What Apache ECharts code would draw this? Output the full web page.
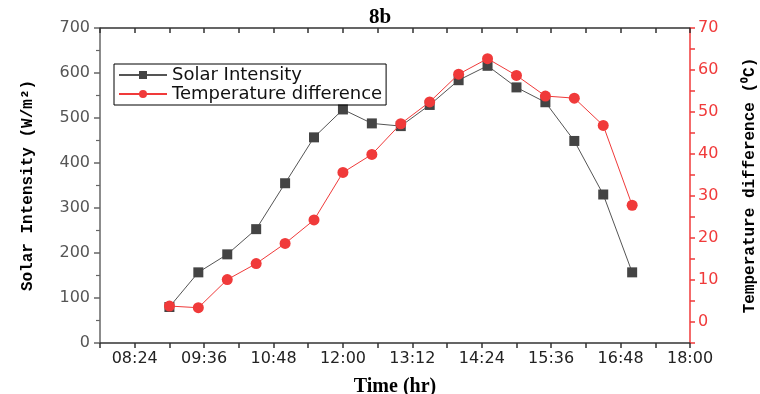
<!DOCTYPE html>
<html>
<head>
<meta charset="utf-8">
<script src="https://cdn.jsdelivr.net/npm/echarts@6/dist/echarts.min.js"></script>
<style>html,body{margin:0;padding:0;background:#fff}#c{width:760px;height:394px}</style>
</head>
<body>
<div id="c"></div>
<script>
// ---- data ----
var times = ['09:00','09:30','10:00','10:30','11:00','11:30','12:00','12:30','13:00','13:30','14:00','14:30','15:00','15:30','16:00','16:30','17:00'];
var solarIntensity = [80, 157, 197, 253, 355, 457, 519, 488, 482, 529, 584, 616, 568, 535, 449, 330, 157];
var tempDifference = [3.8, 3.4, 10.1, 13.9, 18.7, 24.3, 35.6, 39.9, 47.2, 52.4, 59.0, 62.7, 58.7, 53.8, 53.3, 46.8, 27.8];
var xTickLabels = ['08:24','09:36','10:48','12:00','13:12','14:24','15:36','16:48','18:00'];

function toMin(s){var p=s.split(':');return (+p[0])*60+(+p[1]);}
function fmt(v){var h=Math.floor(v/60),m=Math.round(v%60);return (h<10?'0':'')+h+':'+(m<10?'0':'')+m;}

var solarData = times.map(function(t,i){return [toMin(t), solarIntensity[i]];});
var tempData = times.map(function(t,i){return [toMin(t), tempDifference[i]];});

var chart = echarts.init(document.getElementById('c'), null, {renderer:'canvas'});
var tickFont = 'DejaVu Sans';
var red = '#f03a3a';
var option = {
  animation:false,
  backgroundColor:'#ffffff',
  title:{text:'8b', left:'center', top:2, textStyle:{fontFamily:'Liberation Serif', fontWeight:'bold', fontSize:21, color:'#000'}},
  legend:{
    orient:'vertical', left:114, top:64,
    itemWidth:48, itemHeight:10, itemGap:1,
    padding:[2,4,2,4],
    borderColor:'#000', borderWidth:1,
    textStyle:{fontFamily:tickFont, fontSize:18, lineHeight:16, color:'#111'},
    data:['Solar Intensity','Temperature difference']
  },
  grid:{left:100, right:70, top:28, bottom:51, containLabel:false, outerBoundsMode:'none'},
  xAxis:[{
    type:'value', position:'bottom', min:468, max:1080, interval:36,
    name:'Time (hr)', nameLocation:'middle', nameGap:34,
    nameTextStyle:{fontFamily:'Liberation Serif', fontWeight:'bold', fontSize:20, color:'#000'},
    axisLine:{lineStyle:{color:'#333', width:1.5}},
    axisTick:{show:true, inside:false, length:5, lineStyle:{color:'#333', width:1.5}},
    axisLabel:{margin:8, fontFamily:tickFont, fontSize:16, color:'#222',
      formatter:function(v){ var s=fmt(v); return xTickLabels.indexOf(s)>=0 ? s : ''; }},
    splitLine:{show:false}
  },{
    type:'value', position:'top', min:468, max:1080, interval:36,
    axisLine:{onZero:false, lineStyle:{color:'#333', width:1.5}},
    axisTick:{show:true, inside:true, length:5, lineStyle:{color:'#333', width:1.5}},
    axisLabel:{show:false},
    splitLine:{show:false}
  }],
  yAxis:[{
    type:'value', position:'left', min:0, max:700, interval:100,
    name:'Solar Intensity (W/m²)', nameLocation:'middle', nameRotate:90, nameGap:64,
    nameTextStyle:{fontFamily:'Liberation Mono', fontWeight:'bold', fontSize:16, color:'#000'},
    axisLine:{show:true, onZero:false, lineStyle:{color:'#666', width:1.5}},
    axisTick:{show:true, inside:false, length:6, lineStyle:{color:'#666', width:1.5}},
    minorTick:{show:true, splitNumber:2, length:4, lineStyle:{color:'#666', width:1.2}},
    axisLabel:{margin:10, fontFamily:tickFont, fontSize:16, color:'#555'},
    splitLine:{show:false}
  },{
    type:'value', position:'right', min:-5, max:70, interval:5,
    name:'Temperature difference (⁰C)', nameLocation:'middle', nameRotate:90, nameGap:52,
    nameTextStyle:{fontFamily:'Liberation Mono', fontWeight:'bold', fontSize:16, color:'#000'},
    axisLine:{show:true, onZero:false, lineStyle:{color:red, width:1.5}},
    axisTick:{show:true, inside:false, length:5, lineStyle:{color:red, width:1.5}},
    axisLabel:{margin:8, fontFamily:tickFont, fontSize:16, color:red,
      formatter:function(v){ return (Math.round(v)%10===0) ? String(Math.round(v)) : ''; }},
    splitLine:{show:false}
  }],
  series:[{
    name:'Solar Intensity', type:'line', xAxisIndex:0, yAxisIndex:0,
    data:solarData, symbol:'rect', symbolSize:10,
    lineStyle:{color:'#555', width:1},
    itemStyle:{color:'#444', borderWidth:0},
    z:2
  },{
    name:'Temperature difference', type:'line', xAxisIndex:0, yAxisIndex:1,
    data:tempData, symbol:'circle', symbolSize:11,
    lineStyle:{color:red, width:1},
    itemStyle:{color:red, borderWidth:0},
    z:3
  }]
};
chart.setOption(option);
</script>
</body>
</html>
